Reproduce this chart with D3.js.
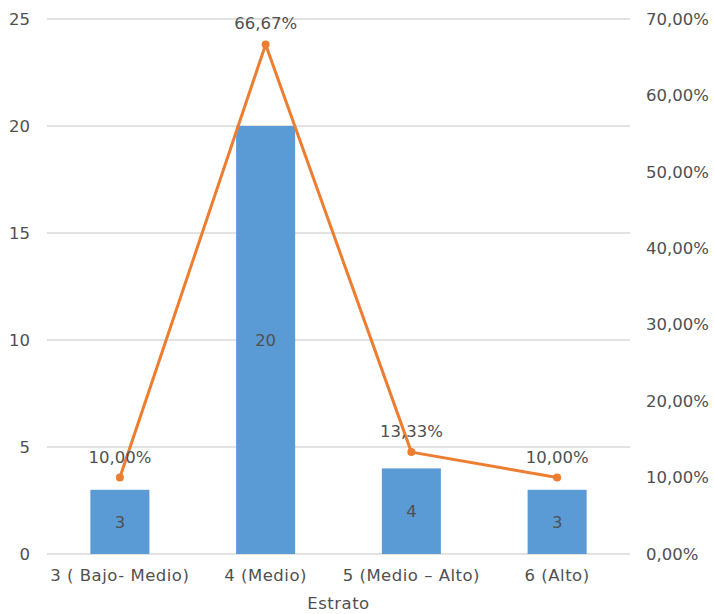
<!DOCTYPE html>
<html>
<head>
<meta charset="utf-8">
<script src="https://cdn.jsdelivr.net/npm/d3@7"></script>
<style>
  body { margin: 0; background: #fff; }
  text { font-family: "DejaVu Sans", sans-serif; fill: #505050; }
</style>
</head>
<body>
<div id="chart"></div>
<script>
var categories = ['3 ( Bajo- Medio)', '4 (Medio)', '5 (Medio – Alto)', '6 (Alto)'];
var counts = [3, 20, 4, 3];
var percents = [0.10, 0.6667, 0.1333, 0.10];
var leftTicks = [0, 5, 10, 15, 20, 25];
var rightTicks = [0, 0.1, 0.2, 0.3, 0.4, 0.5, 0.6, 0.7];

var W = 714, H = 614;
var margin = { left: 47, right: 84, top: 19, bottom: 60 };
var width = W - margin.left - margin.right,
    height = H - margin.top - margin.bottom;
var fs = '16.5px';

var fmtPct = function(v) { return d3.format('.2f')(v * 100).replace('.', ',') + '%'; };

var svg = d3.select('#chart').append('svg')
  .attr('width', W).attr('height', H);
var g = svg.append('g').attr('transform', 'translate(' + margin.left + ',' + margin.top + ')');

var x = d3.scaleBand().domain(categories).range([0, width]).paddingInner(0.595).paddingOuter(0.2975);
var y = d3.scaleLinear().domain([0, 25]).range([height, 0]);
var y2 = d3.scaleLinear().domain([0, 0.7]).range([height, 0]);

// gridlines
g.selectAll('.grid').data(leftTicks).enter().append('line')
  .attr('x1', 0).attr('x2', width)
  .attr('y1', d => y(d)).attr('y2', d => y(d))
  .attr('stroke', '#d9d9d9').attr('stroke-width', 1.3);

function styleTicks(sel) {
  sel.attr('font-size', fs).style('font-family', '"DejaVu Sans", sans-serif').style('fill', '#505050');
}

// left axis
var yAxis = d3.axisLeft(y).tickValues(leftTicks).tickSize(0).tickPadding(17);
g.append('g').call(yAxis)
  .call(a => a.select('.domain').remove())
  .selectAll('text').call(styleTicks);

// right axis
var yAxis2 = d3.axisRight(y2).tickValues(rightTicks).tickSize(0).tickPadding(16).tickFormat(fmtPct);
g.append('g').attr('transform', 'translate(' + width + ',0)').call(yAxis2)
  .call(a => a.select('.domain').remove())
  .selectAll('text').call(styleTicks);

// x axis
var xAxis = d3.axisBottom(x).tickSize(0).tickPadding(15);
g.append('g').attr('transform', 'translate(0,' + height + ')').call(xAxis)
  .call(a => a.select('.domain').remove())
  .selectAll('text').call(styleTicks).style('letter-spacing', '0.5px');

g.append('text')
  .attr('x', width / 2).attr('y', height + 55)
  .attr('text-anchor', 'middle').attr('font-size', fs)
  .style('letter-spacing', '0.5px')
  .text('Estrato');

// bars
g.selectAll('.bar').data(counts).enter().append('rect')
  .attr('x', (d, i) => x(categories[i]))
  .attr('width', x.bandwidth())
  .attr('y', d => y(d))
  .attr('height', d => height - y(d))
  .attr('fill', '#5b9bd5');

g.selectAll('.barlabel').data(counts).enter().append('text')
  .attr('x', (d, i) => x(categories[i]) + x.bandwidth() / 2)
  .attr('y', d => (y(d) + height) / 2)
  .attr('dy', '0.35em')
  .attr('text-anchor', 'middle').attr('font-size', fs)
  .text(d => d);

// line
var line = d3.line()
  .x((d, i) => x(categories[i]) + x.bandwidth() / 2)
  .y(d => y2(d));

g.append('path').datum(percents)
  .attr('d', line)
  .attr('fill', 'none').attr('stroke', '#ed7d31').attr('stroke-width', 3)
  .attr('stroke-linejoin', 'round');

g.selectAll('.dot').data(percents).enter().append('circle')
  .attr('cx', (d, i) => x(categories[i]) + x.bandwidth() / 2)
  .attr('cy', d => y2(d))
  .attr('r', 4).attr('fill', '#ed7d31');

g.selectAll('.pctlabel').data(percents).enter().append('text')
  .attr('x', (d, i) => x(categories[i]) + x.bandwidth() / 2)
  .attr('y', d => y2(d) - 15)
  .attr('text-anchor', 'middle').attr('font-size', fs)
  .text(d => fmtPct(d));
</script>
</body>
</html>
